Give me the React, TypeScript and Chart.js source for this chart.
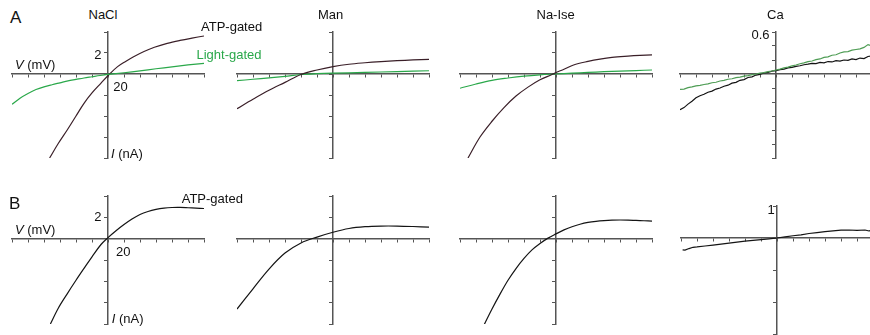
import React, { useEffect, useRef } from "react";
import { Chart, registerables } from "chart.js";

Chart.register(...registerables);

// ---------- DATA (V in mV, I in nA) ----------
const NACL_A_ATP_V = [-73, -62, -51, -40, -30, -20, -9, 2, 12, 22, 32, 45, 58, 74, 90, 105, 120];
const NACL_A_ATP_I = [-8.0, -6.6, -5.33, -4.0, -2.79, -1.8, -0.89, 0, 0.7, 1.2, 1.65, 2.15, 2.55, 2.92, 3.2, 3.42, 3.62];
const NACL_A_LIGHT_V = [-120, -110, -100, -90, -80, -70, -60, -50, -40, -30, -20, -10, 0, 20, 40, 60, 80, 100, 120];
const NACL_A_LIGHT_I = [-2.89, -2.3, -1.85, -1.48, -1.22, -1.02, -0.84, -0.66, -0.52, -0.38, -0.26, -0.14, -0.04, 0.12, 0.3, 0.5, 0.68, 0.86, 1.02];

const MAN_A_ATP_V = [-120, -100, -80, -60, -40, -20, 0, 20, 40, 60, 80, 100, 120];
const MAN_A_ATP_I = [-3.3, -2.4, -1.55, -0.8, -0.05, 0.38, 0.7, 0.93, 1.07, 1.18, 1.27, 1.34, 1.4];
const MAN_A_LIGHT_V = [-120, -100, -80, -60, -40, -20, 0, 40, 80, 120];
const MAN_A_LIGHT_I = [-0.64, -0.5, -0.37, -0.22, -0.05, 0.03, 0.08, 0.15, 0.23, 0.31];

const NAISE_A_ATP_V = [-110, -95, -80, -65, -50, -35, -20, -5, 0, 10, 22, 40, 55, 70, 90, 105, 120];
const NAISE_A_ATP_I = [-8.0, -6.0, -4.5, -3.2, -2.1, -1.25, -0.55, -0.05, 0.15, 0.45, 0.86, 1.2, 1.42, 1.58, 1.7, 1.77, 1.82];
const NAISE_A_LIGHT_V = [-120, -100, -80, -60, -40, -20, 0, 20, 40, 60, 80, 100, 120];
const NAISE_A_LIGHT_I = [-1.36, -0.95, -0.6, -0.38, -0.2, -0.08, 0.0, 0.08, 0.15, 0.22, 0.28, 0.33, 0.38];

const CA_A_V = [-120, -115, -110, -105, -100, -95, -90, -85, -80, -75, -70, -65, -60, -55, -50, -45, -40, -35, -30, -25, -20, -15, -10, -5, 0,
  5, 10, 15, 20, 25, 30, 35, 40, 45, 50, 55, 60, 65, 70, 75, 80, 85, 90, 95, 100, 105, 110, 115, 120];
const CA_A_ATP_I = [-0.51, -0.48, -0.43, -0.39, -0.34, -0.31, -0.29, -0.26, -0.245, -0.215, -0.2, -0.175, -0.16, -0.13, -0.12, -0.09, -0.08, -0.05, -0.04, -0.015, -0.005, 0.015, 0.022, 0.04, 0.048,
  0.062, 0.07, 0.088, 0.095, 0.11, 0.118, 0.132, 0.14, 0.152, 0.148, 0.165, 0.16, 0.178, 0.172, 0.19, 0.185, 0.2, 0.196, 0.215, 0.205, 0.228, 0.22, 0.25, 0.26];
const CA_A_LIGHT_I = [-0.22, -0.215, -0.195, -0.185, -0.17, -0.162, -0.15, -0.142, -0.125, -0.118, -0.1, -0.092, -0.075, -0.068, -0.052, -0.045, -0.03, -0.022, -0.01, 0.0, 0.012, 0.02, 0.035, 0.043, 0.057,
  0.07, 0.088, 0.098, 0.117, 0.128, 0.147, 0.158, 0.177, 0.186, 0.205, 0.215, 0.238, 0.245, 0.268, 0.275, 0.3, 0.315, 0.32, 0.34, 0.35, 0.36, 0.38, 0.42, 0.4];

const NACL_B_V = [-72, -62, -51, -40, -30, -20, -9, 0, 10, 20, 30, 40, 50, 60, 70, 80, 90, 100, 110, 120];
const NACL_B_I = [-8.0, -6.5, -5.17, -3.9, -2.79, -1.7, -0.57, 0.1, 0.75, 1.33, 1.85, 2.27, 2.55, 2.74, 2.86, 2.92, 2.93, 2.9, 2.86, 2.83];
const MAN_B_V = [-120, -100, -80, -60, -40, -20, 0, 20, 40, 60, 80, 100, 120];
const MAN_B_I = [-6.6, -4.7, -2.85, -1.35, -0.4, 0.15, 0.6, 0.95, 1.12, 1.18, 1.18, 1.14, 1.08];
const NAISE_B_V = [-90, -80, -70, -60, -50, -40, -30, -20, -10, 0, 10, 20, 30, 40, 50, 60, 70, 80, 90, 100, 110, 120];
const NAISE_B_I = [-8.1, -6.6, -5.2, -3.9, -2.8, -1.85, -1.05, -0.45, 0.05, 0.45, 0.82, 1.12, 1.35, 1.52, 1.63, 1.7, 1.74, 1.75, 1.74, 1.71, 1.68, 1.65];
const CA_B_V = [-118, -115, -110, -105, -100, -90, -80, -70, -60, -50, -40, -30, -20, -10, 0, 10, 20, 30, 40, 50, 60, 70, 80, 90, 100, 110, 115, 120];
const CA_B_I = [-0.37, -0.38, -0.33, -0.29, -0.28, -0.25, -0.22, -0.19, -0.16, -0.13, -0.1, -0.075, -0.05, -0.025, 0.0, 0.035, 0.07, 0.1, 0.14, 0.17, 0.2, 0.22, 0.245, 0.25, 0.24, 0.25, 0.22, 0.24];

// axis ranges
const V_MIN = -120;
const V_MAX = 120;
const V_STEP = 20;

// ---------- STYLE / LAYOUT ----------
const AXIS = "#555555";
const DARK = "#3a1f28";
const GREEN = "#2aa84a";
const GREEN_CA = "#4f9d55";
const BLACK = "#141414";
const PAD = 5;

type Series = { v: number[]; i: number[]; color: string; smooth: boolean };
type PanelCfg = {
  cx: number;
  top: number;
  w: number;
  h: number;
  ymin: number;
  ymax: number;
  ystep: number;
  series: Series[];
};

const panels: PanelCfg[] = [
  { cx: 12, top: 32, w: 192, h: 126, ymin: -8, ymax: 4, ystep: 2, series: [
    { v: NACL_A_LIGHT_V, i: NACL_A_LIGHT_I, color: GREEN, smooth: true },
    { v: NACL_A_ATP_V, i: NACL_A_ATP_I, color: DARK, smooth: true },
  ] },
  { cx: 237, top: 32, w: 192, h: 126, ymin: -8, ymax: 4, ystep: 2, series: [
    { v: MAN_A_ATP_V, i: MAN_A_ATP_I, color: DARK, smooth: true },
    { v: MAN_A_LIGHT_V, i: MAN_A_LIGHT_I, color: GREEN, smooth: true },
  ] },
  { cx: 460, top: 32, w: 192, h: 126, ymin: -8, ymax: 4, ystep: 2, series: [
    { v: NAISE_A_ATP_V, i: NAISE_A_ATP_I, color: DARK, smooth: true },
    { v: NAISE_A_LIGHT_V, i: NAISE_A_LIGHT_I, color: GREEN, smooth: true },
  ] },
  { cx: 680, top: 32, w: 192, h: 126, ymin: -1.2, ymax: 0.6, ystep: 0.2, series: [
    { v: CA_A_V, i: CA_A_LIGHT_I, color: GREEN_CA, smooth: false },
    { v: CA_A_V, i: CA_A_ATP_I, color: BLACK, smooth: false },
  ] },
  { cx: 12, top: 196, w: 192, h: 128, ymin: -8, ymax: 4, ystep: 2, series: [
    { v: NACL_B_V, i: NACL_B_I, color: BLACK, smooth: true },
  ] },
  { cx: 237, top: 196, w: 192, h: 128, ymin: -8, ymax: 4, ystep: 2, series: [
    { v: MAN_B_V, i: MAN_B_I, color: BLACK, smooth: true },
  ] },
  { cx: 460, top: 196, w: 192, h: 128, ymin: -8, ymax: 4, ystep: 2, series: [
    { v: NAISE_B_V, i: NAISE_B_I, color: BLACK, smooth: true },
  ] },
  { cx: 681, top: 206, w: 192, h: 128, ymin: -3, ymax: 1, ystep: 1, series: [
    { v: CA_B_V, i: CA_B_I, color: BLACK, smooth: false },
  ] },
];

function Panel({ cfg }: { cfg: PanelCfg }) {
  const ref = useRef<HTMLCanvasElement>(null);
  useEffect(() => {
    const axisCommon = {
      type: "linear" as const,
      grid: { display: true, drawOnChartArea: false, drawTicks: true, tickLength: 3, color: AXIS, lineWidth: 1 },
      border: { display: true, color: AXIS, width: 1.5 },
    };
    const chart = new Chart(ref.current as HTMLCanvasElement, {
      type: "scatter",
      data: {
        datasets: cfg.series.map((s) => ({
          data: s.v.map((x, k) => ({ x, y: s.i[k] })),
          borderColor: s.color,
          backgroundColor: s.color,
          borderWidth: 1.2,
          showLine: true,
          pointRadius: 0,
          tension: s.smooth ? 0.35 : 0,
        })),
      },
      options: {
        responsive: false,
        maintainAspectRatio: false,
        animation: false,
        events: [],
        layout: { padding: PAD },
        plugins: { legend: { display: false }, tooltip: { enabled: false } },
        scales: {
          x: {
            ...axisCommon,
            axis: "x",
            min: V_MIN,
            max: V_MAX,
            position: { y: 0 },
            ticks: { display: false, stepSize: V_STEP },
          },
          y: {
            ...axisCommon,
            axis: "y",
            min: cfg.ymin,
            max: cfg.ymax,
            position: { x: 0 },
            ticks: { display: false, stepSize: cfg.ystep },
          },
        } as any,
      },
    });
    return () => chart.destroy();
  }, [cfg]);
  const W = cfg.w + 2 * PAD;
  const H = cfg.h + 2 * PAD;
  return (
    <canvas
      ref={ref}
      width={W}
      height={H}
      style={{ position: "absolute", left: cfg.cx - PAD, top: cfg.top - PAD, width: W, height: H }}
    />
  );
}

const FONT = "'Liberation Sans', Arial, Helvetica, sans-serif";

function Label({ x, y, size = 13, color = "#111", children }: { x: number; y: number; size?: number; color?: string; children: React.ReactNode }) {
  return (
    <div
      style={{
        position: "absolute",
        left: x,
        top: y,
        fontSize: size,
        lineHeight: 1,
        fontFamily: FONT,
        color,
        whiteSpace: "nowrap",
      }}
    >
      {children}
    </div>
  );
}

export default function App() {
  return (
    <div
      style={{
        position: "fixed",
        left: 0,
        top: 0,
        width: 870,
        height: 335,
        overflow: "hidden",
        background: "#fff",
      }}
    >
      {panels.map((p, k) => (
        <Panel key={k} cfg={p} />
      ))}
      <Label x={10} y={9} size={17}>A</Label>
      <Label x={9} y={194.5} size={17}>B</Label>
      <Label x={88.5} y={8}>NaCl</Label>
      <Label x={318} y={8}>Man</Label>
      <Label x={536.5} y={8}>Na-Ise</Label>
      <Label x={767} y={8}>Ca</Label>
      <Label x={201} y={20}>ATP-gated</Label>
      <Label x={196.5} y={47.5} color={GREEN}>Light-gated</Label>
      <Label x={94.3} y={48.3}>2</Label>
      <Label x={15} y={57.6}><i>V</i> (mV)</Label>
      <Label x={113.3} y={80}>20</Label>
      <Label x={111} y={147.3}><i>I</i> (nA)</Label>
      <Label x={751.5} y={27.6}>0.6</Label>
      <Label x={181.7} y={191.6}>ATP-gated</Label>
      <Label x={94.3} y={210}>2</Label>
      <Label x={15} y={222.6}><i>V</i> (mV)</Label>
      <Label x={116} y={245}>20</Label>
      <Label x={111.7} y={311.6}><i>I</i> (nA)</Label>
      <Label x={767.5} y={202.6}>1</Label>
    </div>
  );
}
